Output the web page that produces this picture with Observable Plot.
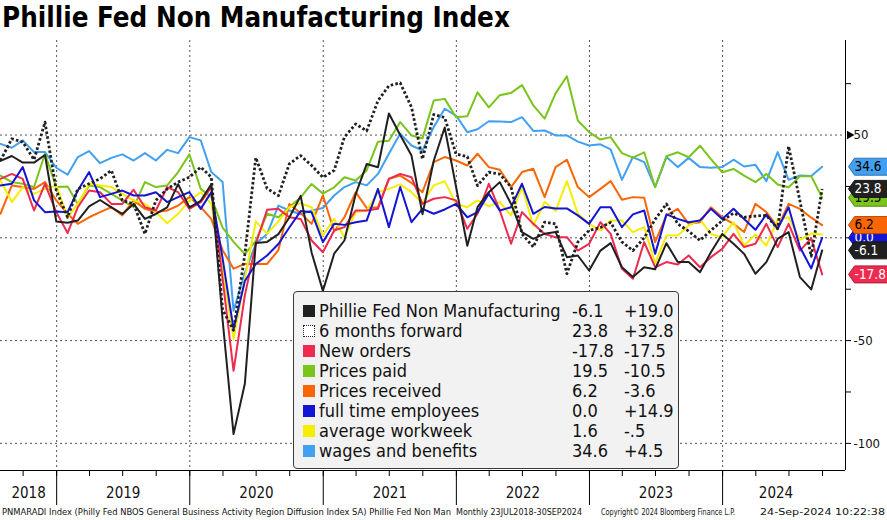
<!DOCTYPE html>
<html><head><meta charset="utf-8">
<script src="https://cdn.jsdelivr.net/npm/d3@7"></script>
<script src="https://cdn.jsdelivr.net/npm/@observablehq/plot@0.6"></script>
<style>
body{margin:0;background:#fff;}
#wrap{position:relative;width:887px;height:520px;overflow:hidden;background:#fff;}
#title{position:absolute;left:2px;top:1px;font-family:"DejaVu Sans Condensed","DejaVu Sans";font-weight:bold;font-size:27.5px;color:#000;white-space:nowrap;}
#chart{position:absolute;left:0;top:40px;}
#legend{position:absolute;left:293px;top:291px;width:384px;height:176px;background:#f2f2f2;border:1px solid #3a3a3a;border-radius:4px;font-family:"DejaVu Sans Condensed","DejaVu Sans";font-size:18px;color:#111;}
.row{position:absolute;left:0;height:20px;line-height:20px;width:100%;white-space:nowrap;}
.sw{position:absolute;left:9px;top:4px;width:12px;height:12px;box-sizing:border-box;}
.nm{position:absolute;left:25px;}
.v1{position:absolute;left:278px;}
.v2{position:absolute;left:330px;}
#footer{position:absolute;left:0;top:505px;}
</style></head>
<body>
<div id="wrap">
  <div id="title">Phillie Fed Non Manufacturing Index</div>
  <div id="chart"></div>
  <div id="legend"></div>
  <div id="footer"></div>
</div>
<script>
// ---- data ----
const names = ["Phillie Fed Non Manufacturing","6 months forward","New orders","Prices paid","Prices received","full time employees","average workweek","wages and benefits"];
const lastValues = ["-6.1","23.8","-17.8","19.5","6.2","0.0","1.6","34.6"];
const changes = ["+19.0","+32.8","-17.5","-10.5","-3.6","+14.9","-.5","+4.5"];
const colors = ["#202020","#202020","#ee2a4f","#7ac41c","#fa6606","#1414d4","#f5ee00","#41a1f0"];

const pnm = [37.4,39.8,36.6,36.6,40.3,7.9,7.3,8.4,15.3,18.4,14.8,11.6,16.5,9.2,11.6,14.8,26.1,14.8,18,26.1,-40,-95.5,-71,-2.5,-2,1.8,9.9,20.4,-7.1,-25.8,-7.7,-1.3,21.3,35.9,34.3,60.5,50,40,11.5,37.5,53.7,25,-3.9,14.9,22.2,27.1,16.5,2.8,-0.5,2,2.8,-9.4,-8.6,-15.9,-6.2,-2.6,-14.3,-19.1,-14.3,-15.3,-2.6,-11.8,-11.8,-16.7,-7,1.9,-2.9,-7.8,-17.5,-11.8,-0.5,2.8,-19.1,-25.1,-6.1];
const fwd6 = [37.6,48.2,46.6,38,56.3,23,10,23.8,26.3,28.7,32.8,18.2,16.5,1.9,18.2,23.8,27.1,29.5,34.4,29.5,-35,-45,-8,39,24,20.5,36,40,35.2,29.4,32.8,49,55.4,52,66.7,74,75.4,63.5,38.3,60,58.5,40.8,39.5,25.4,31.9,31,24.7,1.9,-4.5,7.6,6.8,-17.5,-2.1,3.6,5,7.5,-2,-6.2,0,9,16.5,6.8,3.2,-1.3,3.6,8.4,12,10,10.6,10.9,4.4,44.5,18,-9,23.8];
const newOrders = [28.7,31.1,28.7,13.3,26.3,12.5,2.3,14.9,23,22.2,16.5,16.5,23.4,14.9,13.3,24.7,22.2,14.1,17.4,24.7,-20,-64.7,-28,-3,13.6,14.1,10,9.2,-1.3,-7,3.6,5.2,13.3,13.3,14.1,28.7,31.1,29.5,16.5,19,19.8,18.2,4.4,11.7,26.3,13.3,-2.9,12.5,6.8,1.9,0.3,0.3,-6.2,-2.9,7.6,1.9,-15.1,-19.9,-2.1,-14.3,-11.8,-13,-8.6,-14.3,-9.4,-5.4,1.9,-4.5,-2.9,6.8,-4.5,6.8,-6.2,-0.3,-17.8];
const pricesPaid = [30.3,27.1,26.3,24.7,40.9,24.7,25,16.5,25.5,24.7,21.4,18.2,14.9,27.1,24.7,25.5,32,40.6,23.8,19.8,5,-2,-7.9,-1.5,11.7,10,14.9,19.7,26.2,21.5,24.6,29.5,27.9,32.8,46.8,47.2,56.3,49.8,48.4,66.8,67.6,58.7,59.2,70.8,63.5,69.4,70.5,74.3,64.4,58,70.3,78.6,57.1,51.4,47.8,49,41.2,39,41.6,24.6,39.7,41.6,39.2,44.8,38.3,31.9,33.5,30.3,27.1,31.1,25.9,24.6,29.9,30,19.5];
const pricesReceived = [11.7,25.5,24.7,23.8,27.1,18.2,11.7,6.8,10,12.5,14.9,10.9,18.2,14.1,12.5,13.3,15.7,19.8,14.9,9.2,-6,-15,-12.7,-12.7,-12.7,-6,16.5,12,6.8,20.6,3.2,10,22.2,14.5,14.9,28.7,30.3,26.7,22.2,36.8,39.3,37.6,35.2,40.9,34.4,33.1,24.7,32,33.6,19.8,34.4,38,24.7,19.8,23.8,27.6,18.5,19.8,19.5,-2.1,10.9,14.1,6.8,7.6,14.9,10,6.8,2.8,16.5,12.5,5.2,16.5,14.1,9.8,6.2];
const employees = [25.5,26.3,34.4,18.2,12.5,12.8,12.5,23,32,19.8,21.4,23,20.6,20.6,22.2,17.4,19.8,22.2,14.1,22.2,-10,-44.4,-21,-12.7,-8.6,-3,5,13,12.5,-2.1,6.8,6.3,7.6,8.4,23.8,5.2,24.7,7.6,14.1,11.7,13.8,16.5,10,12.5,21.4,13.3,14.9,26.3,11.7,15,14.3,14.3,10.9,6.8,14.9,14.9,5.2,11.4,13.3,-7.8,11.4,9.2,7.6,8.4,14.1,9.2,14.1,9.2,3.9,11.4,4.4,14.9,-4.5,-14.9,0];
const workweek = [27.9,17.4,24.7,21.4,23.8,25.5,10,16.5,26.3,25.5,24.7,21.4,18.2,16.5,12.5,7.1,11.7,18.2,22.2,16.5,-15,-49.3,-20,8,2,8,15,16.9,14.9,1.1,9.2,0.3,12.5,13.3,22.2,23.8,26,22.2,16.9,25.5,27.6,16.5,14.9,18.2,15.4,17.4,10.9,24.7,6,17.4,13,27.6,11.7,6.8,3.6,8.4,8.4,2.8,5.2,-12.3,1.1,1.1,6,8.8,1.9,0.3,7.6,-3.7,1.6,-3.7,8.8,10,-1,2.1,1.6];
const wages = [45.7,43.8,47.4,41.7,41.7,34.1,30.7,39.3,42.2,36.3,38.9,40.6,37.6,41.2,37.6,42.8,41.2,49,47.4,32,27.1,-35.5,-17,-2.9,1.9,15.7,13.3,11.5,13.3,14.5,20.6,24.7,27.1,25.5,31.1,40.9,50.7,44.9,42.5,53.9,62.8,59.5,51.4,52.8,56.7,56.6,56.3,58.7,52,52.2,49.8,49.8,46.8,44.9,45.5,43,28.2,39.3,36.8,24.7,39.3,34.4,38.9,34.4,34.1,34.4,38,34.7,35.5,27.6,41.7,28.2,30.3,30.1,34.6];

const yearLabels = ["2018","2019","2020","2021","2022","2023","2024"];
const gridValues = [50, 0, -50, -100];
const labelledTicks = [-50, -100];
const plainTicks = [75, 25, 0, -25, -75];
// tags on the right axis, in drawing order: [series index, value text, text colour]
const tagOrder = [[3,"19.5","#000"],[5,"0.0","#fff"],[7,"34.6","#000"],[1,"23.8","#fff"],[4,"6.2","#000"],[0,"-6.1","#fff"],[2,"-17.8","#fff"]];
const tagValues = [19.5, 0.0, 34.6, 23.8, 6.2, -6.1, -17.8];

const seriesValues = [pnm, fwd6, newOrders, pricesPaid, pricesReceived, employees, workweek, wages];
const drawOrder = [7, 3, 4, 6, 2, 5, 1, 0];

// month-end dates Jul 2018 .. Sep 2024
const dates = d3.utcMonth.range(new Date(Date.UTC(2018,6,1)), new Date(Date.UTC(2024,9,1)))
  .map(d => d3.utcDay.offset(d3.utcMonth.offset(d,1), -1));
const xStart = dates[0];
const xEnd = new Date(Date.UTC(2024,11,3));
const yMin = -113.2, yMax = 96;
const yearStarts = d3.utcYear.range(new Date(Date.UTC(2019,0,1)), new Date(Date.UTC(2025,0,1)));
const quarterTicks = d3.utcMonth.every(3).range(xStart, xEnd);
const yearLabelData = yearLabels.map((label) => {
  const y = +label;
  const a = new Date(Math.max(+xStart, Date.UTC(y,0,1)));
  const b = new Date(Math.min(Date.UTC(2024,9,20), Date.UTC(y+1,0,1)));
  return {label, date: new Date((+a + +b)/2)};
});

const FONT = "DejaVu Sans Condensed, DejaVu Sans, sans-serif";
const tagSymbol = {draw(ctx){ ctx.moveTo(3,0); ctx.lineTo(9,-8.5); ctx.lineTo(44,-8.5); ctx.lineTo(44,8.5); ctx.lineTo(9,8.5); ctx.closePath(); }};

const marks = [
  Plot.ruleY(gridValues, {stroke:"#555", strokeDasharray:"2,3", strokeWidth:1}),
  Plot.ruleX(yearStarts, {stroke:"#555", strokeDasharray:"2,3", strokeWidth:1}),
];
for (const k of drawOrder) {
  const dotted = k === 1;
  marks.push(Plot.line(seriesValues[k], {
    x: dates, y: d => d, stroke: colors[k],
    strokeWidth: dotted ? 2.8 : 2,
    strokeDasharray: dotted ? "2.6,2.2" : null,
    strokeLinecap: dotted ? "butt" : "round",
    strokeLinejoin: "round"
  }));
}
marks.push(
  Plot.ruleY([yMin], {stroke:"#000", strokeWidth:1}),
  Plot.ruleX([xEnd], {stroke:"#000", strokeWidth:1}),
  Plot.axisX(quarterTicks, {tickSize:6, tickFormat:() => "", stroke:"#000"}),
  Plot.axisX(yearStarts, {tickSize:35, tickFormat:() => "", stroke:"#000"}),
  Plot.text(yearLabelData, {x:"date", text:"label", frameAnchor:"bottom", dy:27, fontSize:15, fontFamily:FONT, fill:"#111"}),
  Plot.axisY(labelledTicks, {anchor:"right", tickSize:5, tickPadding:3, tickFormat:d => String(d), fontSize:13, fontFamily:FONT, label:null, fill:"#111"}),
  Plot.axisY(plainTicks, {anchor:"right", tickSize:5, tickFormat:() => "", label:null}),
  Plot.axisY([50], {anchor:"right", tickSize:0, tickPadding:8, tickFormat:d => String(d), fontSize:13, fontFamily:FONT, label:null, fill:"#111"}),
  Plot.dot([50], {y:d => d, frameAnchor:"right", symbol:"triangle", r:3.2, fill:"#000", stroke:null, rotate:90, dx:4})
);
tagOrder.forEach(([k, txt, tc], j) => {
  const v = tagValues[j];
  marks.push(
    Plot.dot([v], {y:d => d, frameAnchor:"right", symbol:tagSymbol, fill:colors[k], stroke:d3.color(colors[k]).darker(0.9).formatHex(), strokeWidth:1}),
    Plot.text([v], {y:d => d, frameAnchor:"right", text:() => txt, dx:9, textAnchor:"start", fill:tc, fontSize:13.5, fontFamily:FONT})
  );
});

const chart = Plot.plot({
  width: 887, height: 465,
  marginLeft: 0, marginRight: 42, marginTop: 0, marginBottom: 35,
  style: {background:"transparent", overflow:"visible"},
  x: {type:"utc", domain:[xStart, xEnd]},
  y: {domain:[yMin, yMax]},
  marks
});
document.getElementById("chart").appendChild(chart);

// legend
const legend = d3.select("#legend");
names.forEach((n, i) => {
  const row = legend.append("div").attr("class","row").style("top", (9 + 20*i) + "px");
  const sw = row.append("div").attr("class","sw");
  if (i === 1) sw.style("border","1.5px dotted #222").style("background","#fff");
  else sw.style("background", colors[i]);
  row.append("span").attr("class","nm").text(n);
  row.append("span").attr("class","v1").text(lastValues[i]);
  row.append("span").attr("class","v2").text(changes[i]);
});

// footer
const footerTexts = [
  ["PNMARADI Index (Philly Fed NBOS General Business Activity Region Diffusion Index SA) Phillie Fed Non Man", 2, 449],
  ["Monthly 23JUL2018-30SEP2024", 456, 126],
  ["Copyright\u00a9 2024 Bloomberg Finance L.P.", 601, 134],
  ["24-Sep-2024 10:22:38", 760, 125]
];
const fsvg = d3.select("#footer").append("svg").attr("width",887).attr("height",15);
footerTexts.forEach(([t,x,len]) => {
  fsvg.append("text").attr("x",x).attr("y",10).attr("textLength",len).attr("lengthAdjust","spacingAndGlyphs")
    .attr("font-family", FONT).attr("font-size", 9.5).attr("fill","#111").text(t);
});
</script>
</body></html>
